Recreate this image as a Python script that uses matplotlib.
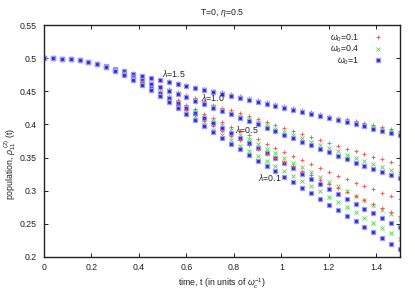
import numpy as np
import matplotlib
matplotlib.use("Agg")
import matplotlib.pyplot as plt

plt.rcParams['font.family'] = ['Liberation Sans', 'DejaVu Sans']
plt.rcParams['mathtext.fontset'] = 'custom'
plt.rcParams['mathtext.rm'] = 'Liberation Sans'
plt.rcParams['mathtext.it'] = 'Liberation Sans:italic'

# time grid (41 samples, 0..1.5)
t = [i * 0.0375 for i in range(41)]

early = [0.5000, 0.4998, 0.4992, 0.4982, 0.4966, 0.4944, 0.4914]

# lambda = 1.5
r15 = early + [0.4879, 0.4841, 0.4804, 0.4769, 0.4737, 0.4706, 0.4677, 0.4649, 0.4622, 0.4593, 0.4564, 0.4536, 0.4510, 0.4483, 0.4454, 0.4424, 0.4395, 0.4366, 0.4337, 0.4307, 0.4278, 0.4249, 0.4220, 0.4191, 0.4162, 0.4133, 0.4104, 0.4075, 0.4046, 0.4017, 0.3988, 0.3959, 0.3929, 0.3900]
g15 = early + [0.4878, 0.4839, 0.4802, 0.4766, 0.4733, 0.4702, 0.4672, 0.4644, 0.4616, 0.4587, 0.4557, 0.4529, 0.4501, 0.4474, 0.4444, 0.4414, 0.4384, 0.4354, 0.4324, 0.4293, 0.4263, 0.4233, 0.4203, 0.4173, 0.4143, 0.4113, 0.4083, 0.4053, 0.4023, 0.3993, 0.3963, 0.3933, 0.3903, 0.3873]
b15 = early + [0.4877, 0.4838, 0.4800, 0.4764, 0.4730, 0.4698, 0.4668, 0.4639, 0.4610, 0.4580, 0.4550, 0.4521, 0.4493, 0.4465, 0.4434, 0.4403, 0.4372, 0.4341, 0.4310, 0.4279, 0.4248, 0.4217, 0.4186, 0.4155, 0.4124, 0.4093, 0.4062, 0.4031, 0.4000, 0.3969, 0.3938, 0.3907, 0.3876, 0.3845]

# lambda = 1.0
r10 = early + [0.4873, 0.4825, 0.4776, 0.4726, 0.4677, 0.4627, 0.4580, 0.4533, 0.4485, 0.4438, 0.4392, 0.4346, 0.4300, 0.4254, 0.4211, 0.4167, 0.4124, 0.4080, 0.4037, 0.3993, 0.3948, 0.3904, 0.3860, 0.3816, 0.3771, 0.3727, 0.3681, 0.3635, 0.3595, 0.3555, 0.3514, 0.3472, 0.3431, 0.3389]
g10 = early + [0.4871, 0.4822, 0.4771, 0.4720, 0.4669, 0.4618, 0.4569, 0.4519, 0.4470, 0.4420, 0.4371, 0.4322, 0.4273, 0.4224, 0.4177, 0.4130, 0.4082, 0.4035, 0.3987, 0.3938, 0.3888, 0.3839, 0.3790, 0.3741, 0.3691, 0.3642, 0.3592, 0.3541, 0.3497, 0.3452, 0.3406, 0.3360, 0.3313, 0.3267]
b10 = early + [0.4870, 0.4820, 0.4768, 0.4716, 0.4664, 0.4612, 0.4561, 0.4510, 0.4459, 0.4408, 0.4357, 0.4306, 0.4255, 0.4204, 0.4153, 0.4102, 0.4051, 0.4000, 0.3948, 0.3895, 0.3842, 0.3789, 0.3736, 0.3683, 0.3630, 0.3577, 0.3524, 0.3471, 0.3424, 0.3377, 0.3330, 0.3283, 0.3236, 0.3189]

# lambda = 0.5
r05 = early + [0.4871, 0.4818, 0.4762, 0.4701, 0.4637, 0.4569, 0.4501, 0.4433, 0.4364, 0.4295, 0.4229, 0.4163, 0.4096, 0.4030, 0.3966, 0.3903, 0.3839, 0.3775, 0.3711, 0.3647, 0.3581, 0.3517, 0.3458, 0.3399, 0.3340, 0.3283, 0.3228, 0.3175, 0.3122, 0.3070, 0.3019, 0.2968, 0.2918, 0.2870]
g05 = early + [0.4869, 0.4814, 0.4756, 0.4693, 0.4627, 0.4557, 0.4486, 0.4414, 0.4342, 0.4270, 0.4199, 0.4128, 0.4056, 0.3985, 0.3915, 0.3845, 0.3775, 0.3705, 0.3635, 0.3564, 0.3493, 0.3422, 0.3350, 0.3279, 0.3208, 0.3138, 0.3066, 0.2995, 0.2924, 0.2855, 0.2785, 0.2716, 0.2647, 0.2580]
b05 = early + [0.4868, 0.4812, 0.4752, 0.4688, 0.4620, 0.4549, 0.4475, 0.4400, 0.4325, 0.4250, 0.4175, 0.4100, 0.4025, 0.3950, 0.3875, 0.3800, 0.3725, 0.3650, 0.3572, 0.3494, 0.3415, 0.3337, 0.3259, 0.3181, 0.3104, 0.3028, 0.2952, 0.2877, 0.2803, 0.2730, 0.2659, 0.2588, 0.2518, 0.2450]

# lambda = 0.1
r01 = early + [0.4870, 0.4816, 0.4757, 0.4692, 0.4618, 0.4537, 0.4456, 0.4375, 0.4293, 0.4212, 0.4135, 0.4057, 0.3980, 0.3902, 0.3832, 0.3762, 0.3693, 0.3625, 0.3561, 0.3496, 0.3433, 0.3366, 0.3300, 0.3233, 0.3167, 0.3100, 0.3039, 0.2977, 0.2916, 0.2854, 0.2795, 0.2736, 0.2677, 0.2618]
g01 = early + [0.4867, 0.4811, 0.4750, 0.4681, 0.4605, 0.4522, 0.4436, 0.4350, 0.4263, 0.4177, 0.4092, 0.4007, 0.3922, 0.3837, 0.3758, 0.3680, 0.3602, 0.3525, 0.3449, 0.3374, 0.3299, 0.3221, 0.3143, 0.3066, 0.2988, 0.2910, 0.2831, 0.2752, 0.2673, 0.2594, 0.2515, 0.2436, 0.2357, 0.2278]
b01 = early + [0.4866, 0.4808, 0.4745, 0.4675, 0.4597, 0.4512, 0.4422, 0.4332, 0.4242, 0.4152, 0.4062, 0.3972, 0.3882, 0.3792, 0.3707, 0.3622, 0.3538, 0.3455, 0.3373, 0.3291, 0.3210, 0.3126, 0.3042, 0.2958, 0.2874, 0.2790, 0.2706, 0.2622, 0.2538, 0.2454, 0.2370, 0.2286, 0.2202, 0.2118]

legend_labels = [r'$\omega_0$=0.1', r'$\omega_0$=0.4', r'$\omega_0$=1']
lambda_labels = [r'$\lambda$=1.5', r'$\lambda$=1.0', r'$\lambda$=0.5', r'$\lambda$=0.1']
lambda_pos = [(0.498, 0.4776), (0.662, 0.441), (0.803, 0.3926), (0.900, 0.320)]

xticks = [0, 0.2, 0.4, 0.6, 0.8, 1, 1.2, 1.4]
yticks = [0.2, 0.25, 0.3, 0.35, 0.4, 0.45, 0.5, 0.55]

fig = plt.figure(figsize=(4.15, 2.91), dpi=100)
ax = fig.add_axes([0.106, 0.117, 0.858, 0.797])

RED = '#ff4a4a'
GREEN = '#3ee03e'
BLUE = '#2222ee'
reds = [r15, r10, r05, r01]
greens = [g15, g10, g05, g01]
blues = [b15, b10, b05, b01]

for i in range(4):
    lr, = ax.plot(t, reds[i], ls='none', marker='+', ms=3.4, mew=0.6, color=RED)
    lg, = ax.plot(t, greens[i], ls='none', marker='x', ms=2.8, mew=0.6, color=GREEN)
    lb, = ax.plot(t, blues[i], ls='none', marker='s', ms=2.4, mew=0.9,
                  mfc=BLUE, mec='#9a9aff')
    if i == 0:
        handles = [lr, lg, lb]

for lab, (x, y) in zip(lambda_labels, lambda_pos):
    ax.text(x, y, lab, fontsize=6.3, ha='left', va='center', color='#222222')

ax.set_xlim(0, 1.5)
ax.set_ylim(0.2, 0.55)
ax.set_xticks(xticks)
ax.set_xticklabels(['%g' % v for v in xticks])
ax.set_yticks(yticks)
ax.set_yticklabels(['%g' % v for v in yticks])
ax.tick_params(direction='in', top=True, right=True, length=3, width=0.7,
               labelsize=6.3, pad=5, colors='#222222')
ax.tick_params(axis='x', pad=4)
for s in ax.spines.values():
    s.set_linewidth(1.0)
    s.set_color('#222222')

ax.set_xlabel(r'time, t (in units of $\omega_c^{-1}$)', fontsize=6.3, color='#222222')
ax.xaxis.set_label_coords(0.5, -0.085)
ax.set_ylabel(r'population, $\rho_{11}^{\ (2)}$ (t)', fontsize=6.3, color='#222222')
ax.yaxis.set_label_coords(-0.072, 0.4)
ax.set_title('T=0, $\\eta$=0.5', fontsize=6.3, pad=7, color='#222222')

leg = ax.legend(handles, legend_labels, loc='upper right', markerfirst=False,
                frameon=False, fontsize=6.3, handlelength=1.0, handletextpad=1.6,
                labelspacing=0.02, borderaxespad=0.0, bbox_to_anchor=(0.96, 0.985))
for txt in leg.get_texts():
    txt.set_ha('right')
    txt.set_color('#222222')

fig.savefig('out.png', dpi=100)
